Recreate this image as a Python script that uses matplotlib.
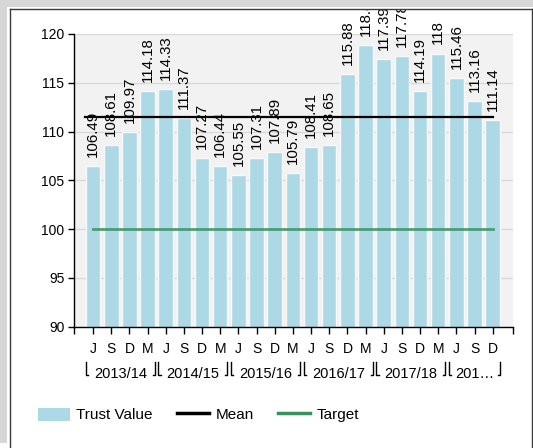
import matplotlib
matplotlib.use('Agg')
import matplotlib.pyplot as plt
import numpy as np
from matplotlib.patches import Rectangle, Patch
from matplotlib.lines import Line2D
from matplotlib.transforms import blended_transform_factory

# ---- data ----
months = ['J', 'S', 'D', 'M'] * 5 + ['J', 'S', 'D']
values = [106.49, 108.61, 109.97, 114.18, 114.33, 111.37, 107.27, 106.44,
          105.55, 107.31, 107.89, 105.79, 108.41, 108.65, 115.88, 118.87,
          117.39, 117.78, 114.19, 118.0, 115.46, 113.16, 111.14]
years = ['2013/14', '2014/15', '2015/16', '2016/17', '2017/18', '201…']
year_sizes = [4, 4, 4, 4, 4, 3]
target = 100
legend_labels = ['Trust Value', 'Mean', 'Target']

bar_color = '#add8e6'
mean_color = 'black'
target_color = '#3a9160'

plt.rcParams['font.family'] = ['Liberation Sans', 'DejaVu Sans']

W, H = 533, 448
fig = plt.figure(figsize=(W / 100, H / 100), dpi=100)
fig.patch.set_facecolor('white')


def fx(x):
    return x / W


def fy(y):
    return 1 - y / H


# outer frame
fig.patches.append(Rectangle((0, fy(443)), 1, 443 / H, transform=fig.transFigure,
                             facecolor='#d6d6d6', edgecolor='none', zorder=-3))
fig.patches.append(Rectangle((fx(7), 0), 1, fy(7), transform=fig.transFigure,
                             facecolor='white', edgecolor='none', zorder=-2))
# top strip drawn above labels (clips them)
fig.patches.append(Rectangle((0, fy(7)), 1, 7 / H, transform=fig.transFigure,
                             facecolor='#d6d6d6', edgecolor='none', zorder=9))
fig.patches.append(Rectangle((fx(7), fy(9.5)), 1, 2.5 / H, transform=fig.transFigure,
                             facecolor='white', edgecolor='none', zorder=9))
for xs, ys in [([fx(9.5), fx(9.5)], [fy(9.5), 0]),
               ([fx(9.5), fx(531.5)], [fy(9.5), fy(9.5)]),
               ([fx(531.5), fx(531.5)], [fy(9.5), 0])]:
    fig.lines.append(Line2D(xs, ys, transform=fig.transFigure, color='#3a3a3a',
                            lw=1, zorder=10))

ax_l, ax_r, ax_t, ax_b = 74, 512.7, 34, 326.7
ax = fig.add_axes([fx(ax_l), fy(ax_b), fx(ax_r) - fx(ax_l), fy(ax_t) - fy(ax_b)])
ax.set_facecolor('#f2f2f2')

n = len(values)
x = np.arange(n)
ax.bar(x, values, width=0.8, color=bar_color, edgecolor='#f8f8f8', linewidth=1,
       zorder=2)

ax.set_ylim(90, 120)
xmin, xmax = -1.05, 23.1
ax.set_xlim(xmin, xmax)
ax.set_yticks(np.arange(90, 121, 5))
ax.set_xticks([xmin] + list(x) + [xmax])
ax.set_xticklabels([''] + months + [''])
ax.yaxis.grid(True, color='#d9d9d9', lw=1)
ax.set_axisbelow(True)
for s in ['top', 'right']:
    ax.spines[s].set_visible(False)
for s in ['left', 'bottom']:
    ax.spines[s].set_color('black')
    ax.spines[s].set_linewidth(1)
ax.tick_params(axis='x', direction='out', length=5, width=1, pad=6, labelsize=10)
ax.tick_params(axis='y', direction='out', length=4, width=1, pad=3, labelsize=10)

# value labels
for xi, v in zip(x, values):
    ax.annotate(f'{v:g}', (xi, v), xytext=(0, 6.5), textcoords='offset points',
                rotation=90, ha='center', va='bottom', fontsize=10.8,
                annotation_clip=False, zorder=5)

# mean and target
m = np.mean(values)
ax.plot([-0.45, n - 1], [m, m], color=mean_color, lw=1.6, zorder=4)
ax.plot([0, n - 1], [target, target], color=target_color, lw=2, alpha=0.85, zorder=3)

# year grouping
tr = blended_transform_factory(ax.transData, ax.transAxes)
ph = ax_b - ax_t


def yax(p):
    return (ax_b - p) / ph


start = 0
for yl, sz in zip(years, year_sizes):
    l = start - 0.4
    r = start + sz - 1 + 0.4
    ax.add_line(Line2D([l + 0.12, l, l], [yax(375), yax(375), yax(362)],
                       transform=tr, color='black', lw=1, clip_on=False))
    ax.add_line(Line2D([r - 0.12, r, r], [yax(375), yax(375), yax(362)],
                       transform=tr, color='black', lw=1, clip_on=False))
    ax.text((l + r) / 2, yax(373.5), yl, transform=tr, ha='center', va='center',
            fontsize=10.5)
    start += sz

# legend
handles = [Patch(facecolor=bar_color, edgecolor='none'),
           Line2D([], [], color=mean_color, lw=2.5),
           Line2D([], [], color=target_color, lw=2.5)]
fig.legend(handles, legend_labels, loc='center left',
           bbox_to_anchor=(fx(38), fy(415)), ncol=3, frameon=False, fontsize=11,
           handlelength=2.1, handleheight=0.95, handletextpad=0.4,
           columnspacing=1.6, borderpad=0, borderaxespad=0)

fig.savefig('out.png', dpi=100)
